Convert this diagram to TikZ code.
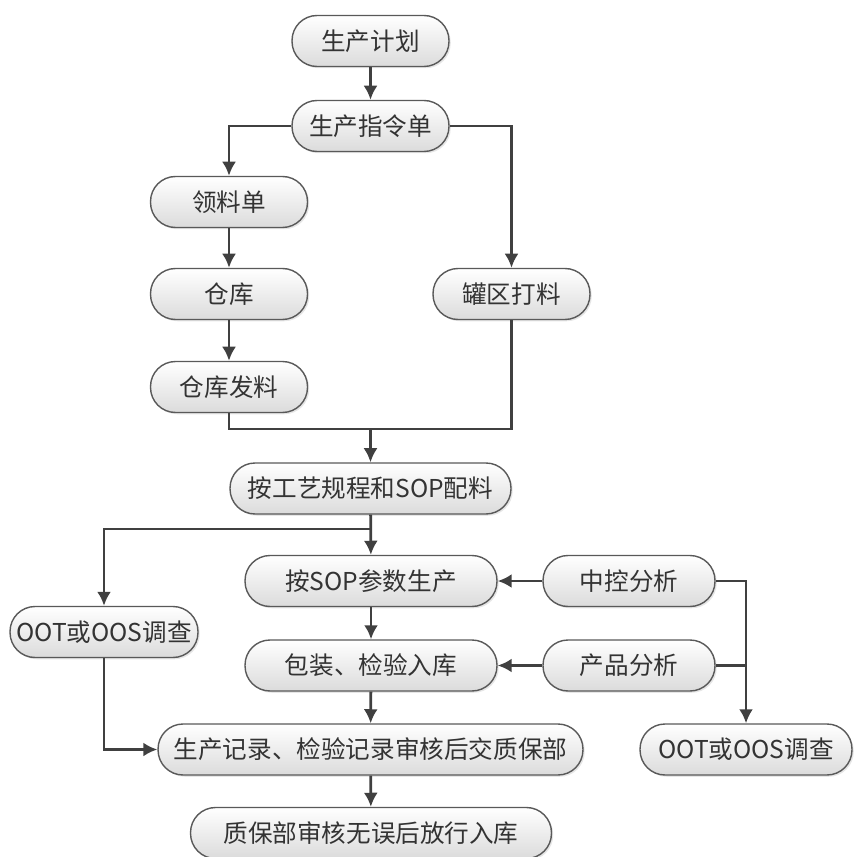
\documentclass[tikz,border=0pt]{standalone}
\usepackage{fontspec}
\setmainfont{Noto Sans CJK SC}
\usetikzlibrary{arrows.meta,shadows}

\tikzset{
  proc/.style={draw=black!65, line width=0.8pt, rounded corners=0.5cm,
    top color=white, bottom color=black!14, minimum height=1.02cm,
    inner sep=2pt, text=black!80, font=\fontsize{14}{16}\selectfont,
    drop shadow={opacity=0.2, shadow xshift=1pt, shadow yshift=-1pt}},
  flow/.style={draw=black!75, line width=1.6pt, -{Latex[length=8pt,width=8pt]}},
  link/.style={draw=black!75, line width=1.6pt}
}

\begin{document}
\begin{tikzpicture}[x=0.02cm, y=-0.02cm]
\useasboundingbox (0,0) rectangle (853,857);

\node[proc, minimum width=3.14cm] (plan) at (370.5,41) {生产计划};
\node[proc, minimum width=3.14cm] (order) at (370.5,126) {生产指令单};
\node[proc, minimum width=3.14cm] (pick) at (229,202) {领料单};
\node[proc, minimum width=3.14cm] (store) at (229,294) {仓库};
\node[proc, minimum width=3.14cm] (issue) at (229,387) {仓库发料};
\node[proc, minimum width=3.14cm] (tank) at (511.5,294) {罐区打料};
\node[proc, minimum width=5.62cm] (mix) at (370.5,488.5) {按工艺规程和SOP配料};
\node[proc, minimum width=3.76cm] (ootL) at (104,632) {OOT或OOS调查};
\node[proc, minimum width=5.04cm] (sop) at (371,581) {按SOP参数生产};
\node[proc, minimum width=3.44cm] (ctrl) at (629,581) {中控分析};
\node[proc, minimum width=5.04cm] (pack) at (371,665.5) {包装、检验入库};
\node[proc, minimum width=3.44cm] (prod) at (629,665.5) {产品分析};
\node[proc, minimum width=8.5cm] (record) at (370.5,749.5) {生产记录、检验记录审核后交质保部};
\node[proc, minimum width=4.24cm] (ootR) at (746,749.5) {OOT或OOS调查};
\node[proc, minimum width=7.22cm] (final) at (371,833) {质保部审核无误后放行入库};

\coordinate (merge) at (370.5,429);
\coordinate (split) at (370.5,529);

\draw[flow] (plan) -- (order);
\draw[flow] (order) -| (pick);
\draw[flow] (order) -| (tank);
\draw[flow] (pick) -- (store);
\draw[flow] (store) -- (issue);
\draw[link] (issue) |- (merge) -| (tank);
\draw[flow] (merge) -- (mix);
\draw[flow] (mix) -- (sop);
\draw[flow] (split) -| (ootL);
\draw[flow] (ctrl) -- (sop);
\draw[flow] (prod) -- (pack);
\draw[flow] (sop) -- (pack);
\draw[flow] (pack) -- (record);
\draw[flow] (record) -- (final);
\draw[flow] (ootL) |- (record);
\draw[flow] (ctrl) -| (ootR);
\draw[link] (prod) -- (prod -| ootR);
\end{tikzpicture}
\end{document}
